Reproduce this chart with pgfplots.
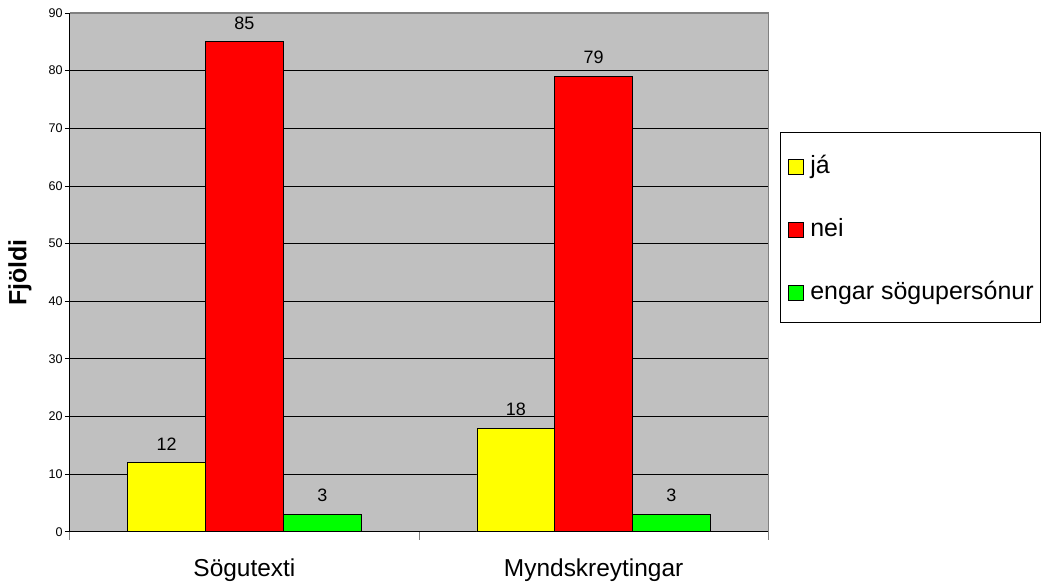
\documentclass[border=0pt]{standalone}
\usepackage{fontspec}
\setmainfont{Liberation Sans}
\usepackage{pgfplots}
\pgfplotsset{compat=1.18}

\definecolor{plotgray}{HTML}{C0C0C0}
\definecolor{framegray}{HTML}{808080}
\definecolor{barYellow}{HTML}{FFFF00}
\definecolor{barRed}{HTML}{FF0000}
\definecolor{barGreen}{HTML}{00FF00}

\newcommand\tickfont{\fontsize{12.6}{15}\selectfont}
\newcommand\valfont{\fontsize{18}{21}\selectfont}
\newcommand\catfont{\fontsize{24.5}{29}\selectfont}
\newcommand\legfont{\fontsize{25}{30}\selectfont}

\begin{document}
\begin{tikzpicture}
\begin{axis}[
  scale only axis,
  width=700pt, height=520pt,
  xmin=-0.5, xmax=1.5, ymin=0, ymax=90,
  clip=false,
  /pgf/number format/assume math mode=true,
  axis x line=bottom, axis y line=left,
  axis line style={-, black, line width=1pt},
  axis background/.style={fill=plotgray},
  ybar=0pt, bar width=78pt,
  ytick={0,10,...,90},
  yticklabel style={font=\tickfont, inner sep=2pt},
  tick align=outside,
  major tick length=5pt,
  ytick style={black, line width=0.8pt},
  ymajorgrids,
  grid style={black, line width=0.8pt},
  xtick={0,1},
  xticklabels={Sögutexti, Myndskreytingar},
  xtick style={draw=none},
  xticklabel style={font=\catfont, inner sep=0pt, yshift=-22pt},
  ylabel={Fjöldi},
  every axis y label/.style={at={(axis description cs:-0.0714,0.5)}, rotate=90, anchor=center,
    font=\bfseries\fontsize{25}{30}\selectfont},
  nodes near coords,
  every node near coord/.append style={font=\valfont, inner sep=0pt, yshift=12pt, black},
  legend image code/.code={\draw[#1, draw=black, line width=0.8pt] (0pt,-10pt) rectangle (15pt,5pt);},
  legend style={
    at={(axis description cs:1,0.5)}, anchor=west, xshift=12pt, yshift=45pt,
    draw=black, line width=0.8pt, fill=white,
    font=\legfont, inner xsep=7pt, inner ysep=11pt,
    row sep=21pt, column sep=7pt,
    nodes={inner sep=0pt, text height=30pt, text depth=12pt},
  },
  legend cell align=left,
]
\addplot[fill=barYellow, draw=black, line width=0.8pt] coordinates {(0,12) (1,18)};
\addplot[fill=barRed, draw=black, line width=0.8pt] coordinates {(0,85) (1,79)};
\addplot[fill=barGreen, draw=black, line width=0.8pt] coordinates {(0,3) (1,3)};
\legend{já, nei, engar sögupersónur}
% light frame on the top and right edges of the plot area
\draw[framegray, line width=1.2pt] (rel axis cs:0,1) -- (rel axis cs:1,1) -- (rel axis cs:1,0);
% separators between the two categories on the x axis
\draw[framegray, line width=1pt] (axis cs:-0.5,0) -- ([yshift=-8pt]axis cs:-0.5,0);
\draw[framegray, line width=1pt] (axis cs:0.5,0) -- ([yshift=-8pt]axis cs:0.5,0);
\draw[framegray, line width=1pt] (axis cs:1.5,0) -- ([yshift=-8pt]axis cs:1.5,0);
\coordinate (SW) at (rel axis cs:0,0);
\end{axis}
\path (SW) ++(-70pt,-49pt) rectangle ++(1041pt,582pt);
\end{tikzpicture}
\end{document}
